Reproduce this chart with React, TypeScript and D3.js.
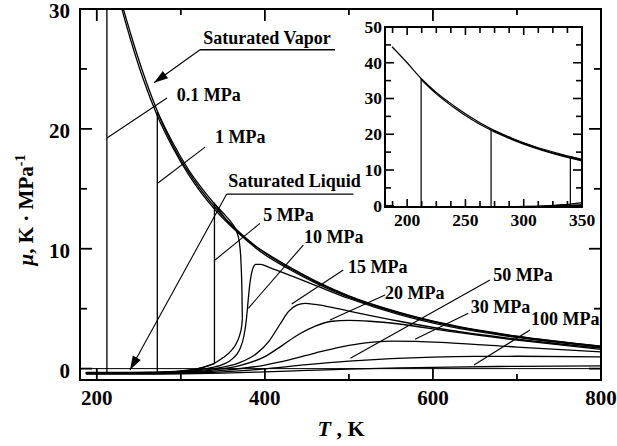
import React from "react";
import * as d3 from "d3";

type Pt = [number, number];

// ---------- data (T in K, mu in K/MPa) ----------
const satVapor: Pt[] = [[187,44.5],[200,40.0],[212,35.6],[225,31.7],[240,28.0],[255,24.7],[272,21.5],[290,18.9],[310,16.5],[330,14.6],[340,13.75],[350,13.0],[360,12.2],[366,11.5],[369.5,10.6],[371.5,9.0],[372.7,6.5],[373.2,4.2]];
const satLiquid: Pt[] = [[187,-0.32],[230,-0.32],[270,-0.3],[300,-0.2],[320,0.0],[340,0.45],[350,0.9],[360,1.5],[366,2.1],[370,2.8],[372.5,3.6],[373.2,4.2]];

const iso01: Pt[] = [[187,-0.33],[212,-0.33],[212,35.3],[225,31.3],[240,27.5],[255,24.2],[272,21.1],[290,18.5],[310,16.1],[340,13.3],[370,11.2],[400,9.5],[430,8.25],[460,7.15],[500,5.95],[560,4.6],[620,3.6],[700,2.65],[800,1.84]];
const iso1: Pt[] = [[187,-0.34],[230,-0.34],[272,-0.31],[272,21.4],[290,18.7],[310,16.3],[340,13.5],[370,11.35],[400,9.65],[430,8.35],[460,7.25],[500,6.02],[560,4.65],[620,3.63],[700,2.68],[800,1.86]];
const iso5: Pt[] = [[187,-0.35],[230,-0.35],[270,-0.32],[300,-0.22],[320,-0.02],[340,0.42],[340,13.75],[355,12.35],[370,11.3],[385,10.4],[400,9.7],[430,8.45],[460,7.33],[500,6.08],[560,4.7],[620,3.66],[700,2.7],[800,1.87]];
const iso10: Pt[] = [[187,-0.36],[230,-0.36],[270,-0.33],[300,-0.25],[330,0.0],[350,0.35],[362,0.85],[370,1.6],[375,2.7],[378,4.1],[380,5.6],[382,7.0],[385,8.2],[389,8.7],[395,8.7],[405,8.45],[420,8.05],[440,7.5],[460,6.95],[500,5.85],[560,4.5],[620,3.5],[700,2.6],[800,1.8]];
const iso15: Pt[] = [[187,-0.37],[230,-0.37],[270,-0.35],[300,-0.28],[340,0.0],[370,0.5],[390,1.25],[405,2.3],[418,3.7],[428,4.75],[438,5.3],[448,5.45],[460,5.35],[480,5.1],[500,4.8],[560,3.95],[620,3.2],[700,2.45],[800,1.72]];
const iso20: Pt[] = [[187,-0.38],[230,-0.38],[270,-0.37],[300,-0.32],[340,-0.1],[370,0.25],[400,1.0],[420,1.9],[440,2.85],[460,3.55],[480,3.95],[500,4.02],[525,3.95],[560,3.72],[620,3.1],[700,2.38],[800,1.6]];
const iso30: Pt[] = [[187,-0.4],[230,-0.4],[270,-0.39],[300,-0.35],[350,-0.15],[400,0.3],[430,0.75],[460,1.3],[490,1.8],[520,2.15],[550,2.3],[580,2.28],[620,2.15],[700,1.8],[800,1.4]];
const iso50: Pt[] = [[187,-0.42],[230,-0.42],[270,-0.41],[300,-0.39],[350,-0.27],[400,-0.02],[450,0.33],[500,0.62],[550,0.83],[600,0.96],[650,1.02],[700,1.03],[800,0.98]];
const iso100: Pt[] = [[187,-0.45],[230,-0.45],[270,-0.45],[300,-0.43],[350,-0.37],[400,-0.27],[450,-0.15],[500,-0.04],[560,0.06],[620,0.13],[700,0.19],[800,0.23]];

const allCurves: Pt[][] = [satVapor, satLiquid, iso01, iso1, iso5, iso10, iso15, iso20, iso30, iso50, iso100];

// tick values
const xTickMain = [200, 300, 400, 500, 600, 700, 800];
const xLabelMain = [200, 400, 600, 800];
const yTickMain = [0, 5, 10, 15, 20, 25, 30];
const yLabelMain = [0, 10, 20, 30];
const xTickInset = [187.5, 200, 212.5, 225, 237.5, 250, 262.5, 275, 287.5, 300, 312.5, 325, 337.5, 350];
const xLabelInset = [200, 250, 300, 350];
const yTickInset = [0, 5, 10, 15, 20, 25, 30, 35, 40, 45, 50];
const yLabelInset = [0, 10, 20, 30, 40, 50];

// annotations: [text, textT, textMu, leader from (T,mu) to (T,mu)]
type Ann = { label: string; tx: number; ty: number; l1: Pt; l2: Pt; arrow?: boolean; underline?: [number, number, number] };
const annotations: Ann[] = [
  { label: "Saturated Vapor", tx: 326.7, ty: 27.1, l1: [322.8, 26.6], l2: [268.1, 23.85], arrow: true, underline: [322.8, 483.5, 26.6] },
  { label: "0.1 MPa", tx: 295.1, ty: 22.3, l1: [283.5, 22.57], l2: [212.1, 19.24] },
  { label: "1 MPa", tx: 340.7, ty: 18.8, l1: [328.8, 18.48], l2: [272.8, 15.48] },
  { label: "Saturated Liquid", tx: 356.5, ty: 15.19, l1: [354.6, 14.56], l2: [239.5, -0.12], arrow: true, underline: [354.6, 505.3, 14.56] },
  { label: "5 MPa", tx: 398.1, ty: 12.34, l1: [394.2, 12.12], l2: [340.7, 9.06] },
  { label: "10 MPa", tx: 446.6, ty: 10.5, l1: [445.7, 10.31], l2: [380.3, 5.03] },
  { label: "15 MPa", tx: 498.9, ty: 8.0, l1: [493.3, 8.22], l2: [431.9, 5.39] },
  { label: "20 MPa", tx: 543, ty: 5.78, l1: [543, 6.14], l2: [477.5, 4.05] },
  { label: "50 MPa", tx: 671.8, ty: 7.31, l1: [667.9, 7.39], l2: [501.8, 0.86] },
  { label: "30 MPa", tx: 644.9, ty: 4.61, l1: [642.1, 4.61], l2: [578.7, 2.44] },
  { label: "100 MPa", tx: 716.7, ty: 3.64, l1: [715.5, 3.22], l2: [648.9, 0.30] },
];

const FONT = "'Liberation Serif', 'Times New Roman', serif";

function curvePath(pts: Pt[], x: (v: number) => number, y: (v: number) => number): string {
  const segs: Pt[][] = [];
  let cur: Pt[] = [pts[0]];
  for (let i = 1; i < pts.length; i++) {
    if (pts[i][0] === pts[i - 1][0]) { segs.push(cur); cur = [pts[i]]; }
    else cur.push(pts[i]);
  }
  segs.push(cur);
  const line = d3.line<Pt>().x(d => x(d[0])).y(d => y(d[1])).curve(d3.curveMonotoneX);
  return segs.map((s, i) => {
    const p = s.length > 1 ? (line(s) as string) : `M${x(s[0][0])},${y(s[0][1])}`;
    return i === 0 ? p : "L" + p.slice(1);
  }).join("");
}

export default function App() {
  const W = 617, H = 446;
  const x = d3.scaleLinear().domain([180, 800]).range([80, 601]);
  const y = d3.scaleLinear().domain([-0.95, 30]).range([380, 9]);
  const ix = d3.scaleLinear().domain([181, 350]).range([385, 582]);
  const iy = d3.scaleLinear().domain([-0.35, 50]).range([207, 27]);
  const [mx0, mx1] = x.range();
  const [my0, my1] = [y.range()[1], y.range()[0]];
  const [ix0, ix1] = ix.range();
  const [iy0, iy1] = [iy.range()[1], iy.range()[0]];

  const arrowHead = (a: Pt, b: Pt) => {
    const ax = x(a[0]), ay = y(a[1]), bx = x(b[0]), by = y(b[1]);
    const dx = bx - ax, dy = by - ay, L = Math.hypot(dx, dy);
    const ux = dx / L, uy = dy / L, len = 14, hw = 4.5;
    const baseX = bx - ux * len, baseY = by - uy * len;
    return `M${bx},${by}L${baseX - uy * hw},${baseY + ux * hw}L${baseX + uy * hw},${baseY - ux * hw}Z`;
  };

  return (
    <svg width={W} height={H} style={{ position: "absolute", left: 0, top: 0, background: "#fff" }} fontFamily={FONT}>
      <defs>
        <clipPath id="mainClip"><rect x={mx0} y={my0} width={mx1 - mx0} height={my1 - my0} /></clipPath>
        <clipPath id="insetClip"><rect x={ix0} y={iy0} width={ix1 - ix0} height={iy1 - iy0} /></clipPath>
      </defs>
      <rect x={0} y={0} width={W} height={H} fill="#fff" />

      {/* main curves */}
      <g clipPath="url(#mainClip)" fill="none" stroke="#000" strokeWidth={1.3}>
        <line x1={mx0} x2={mx1} y1={y(0)} y2={y(0)} strokeWidth={1} />
        {allCurves.map((c, i) => <path key={i} d={curvePath(c, x, y)} />)}
      </g>

      {/* annotations */}
      <g>
        {annotations.map((a, i) => (
          <g key={i}>
            <line x1={x(a.l1[0])} y1={y(a.l1[1])} x2={x(a.l2[0])} y2={y(a.l2[1])} stroke="#000" strokeWidth={1.1} />
            {a.underline && <line x1={x(a.underline[0])} x2={x(a.underline[1])} y1={y(a.underline[2])} y2={y(a.underline[2])} stroke="#000" strokeWidth={1.3} />}
            {a.arrow && <path d={arrowHead(a.l1, a.l2)} fill="#000" />}
            <text x={x(a.tx)} y={y(a.ty)} fontSize={18} fontWeight="bold">{a.label}</text>
          </g>
        ))}
      </g>

      {/* main frame & ticks */}
      <g stroke="#000" strokeWidth={1.8}>
        {xTickMain.map(v => {
          const len = v % 200 === 0 ? 12 : 6;
          return <g key={"xt" + v}>
            <line x1={x(v)} x2={x(v)} y1={my1} y2={my1 - len} />
            <line x1={x(v)} x2={x(v)} y1={my0} y2={my0 + len} />
          </g>;
        })}
        {yTickMain.map(v => {
          const len = v % 10 === 0 ? 12 : 7;
          return <g key={"yt" + v}>
            <line x1={mx0} x2={mx0 + len} y1={y(v)} y2={y(v)} />
            <line x1={mx1} x2={mx1 - len} y1={y(v)} y2={y(v)} />
          </g>;
        })}
        <rect x={mx0} y={my0} width={mx1 - mx0} height={my1 - my0} fill="none" strokeWidth={2} />
      </g>
      {xLabelMain.map(v => <text key={"xl" + v} x={x(v)} y={405} textAnchor="middle" fontSize={21} fontWeight="bold">{v}</text>)}
      {yLabelMain.map(v => <text key={"yl" + v} x={70} y={y(v) + 9} textAnchor="end" fontSize={21} fontWeight="bold">{v}</text>)}

      <text x={341} y={436} textAnchor="middle" fontSize={22} fontWeight="bold"><tspan fontStyle="italic">T</tspan> , K</text>
      <text transform="translate(33,210) rotate(-90)" textAnchor="middle" fontSize={21} fontWeight="bold">
        <tspan fontStyle="italic">μ</tspan>, K · MPa<tspan dy={-8} fontSize={14}>-1</tspan>
      </text>

      {/* inset */}
      <rect x={ix0} y={iy0} width={ix1 - ix0} height={iy1 - iy0} fill="#fff" />
      <g clipPath="url(#insetClip)" fill="none" stroke="#000" strokeWidth={1.2}>
        {allCurves.map((c, i) => <path key={i} d={curvePath(c, ix, iy)} />)}
      </g>
      <g stroke="#000" strokeWidth={1.6}>
        {xTickInset.map(v => {
          const len = v % 50 === 0 ? 8 : 6;
          return <g key={"ixt" + v}>
            <line x1={ix(v)} x2={ix(v)} y1={iy1} y2={iy1 - len} />
            <line x1={ix(v)} x2={ix(v)} y1={iy0} y2={iy0 + len} />
          </g>;
        })}
        {yTickInset.map(v => {
          const len = v % 10 === 0 ? 9 : 6;
          return <g key={"iyt" + v}>
            <line x1={ix0} x2={ix0 + len} y1={iy(v)} y2={iy(v)} />
            <line x1={ix1} x2={ix1 - len} y1={iy(v)} y2={iy(v)} />
          </g>;
        })}
        <rect x={ix0} y={iy0} width={ix1 - ix0} height={iy1 - iy0} fill="none" strokeWidth={2} />
      </g>
      {xLabelInset.map(v => <text key={"ixl" + v} x={ix(v)} y={226} textAnchor="middle" fontSize={17.5} fontWeight="bold">{v}</text>)}
      {yLabelInset.map(v => <text key={"iyl" + v} x={382} y={iy(v) + 6} textAnchor="end" fontSize={17.5} fontWeight="bold">{v}</text>)}
    </svg>
  );
}
